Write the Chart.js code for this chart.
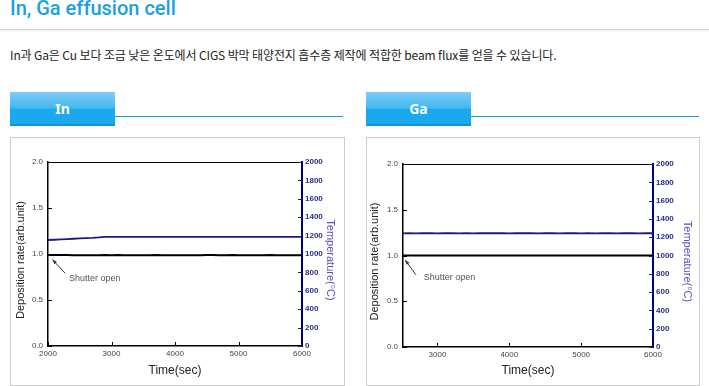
<!DOCTYPE html>
<html>
<head>
<meta charset="utf-8">
<script src="https://cdn.jsdelivr.net/npm/chart.js@4.4.0/dist/chart.umd.min.js"></script>
<style>
  body { margin: 0; width: 709px; height: 386px; overflow: hidden; background: #fff; position: relative;
         font-family: "Noto Sans CJK KR", "Noto Sans", sans-serif; }
  #title { position: absolute; left: 10px; top: -4px; font: 500 20px Roboto, sans-serif; color: #1ba0e3; white-space: nowrap; }
  #hr { position: absolute; left: 0; top: 29px; width: 709px; height: 1px; background: #cfcfcf; box-shadow: 0 1px 2px #e6e6e6; }
  #desc { position: absolute; left: 10px; top: 46px; font-size: 12px; color: #222; white-space: nowrap; letter-spacing: -0.12px; }
  .tab { position: absolute; top: 92px; width: 105px; height: 34px; color: #fff; font: bold 14px "Noto Sans", sans-serif;
         text-align: center; line-height: 33px;
         background: linear-gradient(#7dccf3 0%, #45b8f1 47%, #1aa9ef 50%, #1aa9ef 93%, #1592d2 94%, #1592d2 100%); }
  .tabline { position: absolute; top: 116px; height: 1px; background: #1a9be0; }
  .box { position: absolute; top: 137px; height: 247px; border: 1px solid #cccccc; }
  .box canvas { position: absolute; left: 0; top: 0; }
</style>
</head>
<body>
<div id="title">In, Ga effusion cell</div>
<div id="hr"></div>
<div id="desc">In과 Ga은 Cu 보다 조금 낮은 온도에서 CIGS 박막 태양전지 흡수층 제작에 적합한 beam flux를 얻을 수 있습니다.</div>

<div class="tab" style="left:10px">In</div>
<div class="tabline" style="left:115px; width:228px"></div>
<div class="tab" style="left:366px">Ga</div>
<div class="tabline" style="left:471px; width:228px"></div>

<div class="box" style="left:10px; width:333px"><canvas id="inChart" width="333" height="247"></canvas></div>
<div class="box" style="left:366px; width:332px"><canvas id="gaChart" width="332" height="247"></canvas></div>

<script>
// In cell
const inTime = [2000, 2100, 2200, 2300, 2400, 2500, 2600, 2700, 2800, 2900, 3000, 3100, 3200, 3300, 3400, 3500, 3600, 3700, 3800, 3900, 4000,
                4100, 4200, 4300, 4400, 4500, 4600, 4700, 4800, 4900, 5000, 5100, 5200, 5300, 5400, 5500, 5600, 5700, 5800, 5900, 6000];
const inRate = [0.99, 0.99, 0.99, 0.988, 0.986, 0.986, 0.986, 0.986, 0.986, 0.988, 0.986, 0.988, 0.986, 0.986, 0.986, 0.986, 0.986, 0.988, 0.986, 0.986, 0.986,
                0.986, 0.986, 0.986, 0.986, 0.988, 0.988, 0.986, 0.986, 0.988, 0.986, 0.986, 0.986, 0.986, 0.986, 0.988, 0.986, 0.986, 0.986, 0.986, 0.986];
const inTemp = [1152, 1155, 1158, 1162, 1166, 1169, 1172, 1175, 1180, 1187, 1187, 1187, 1187, 1187, 1187, 1187, 1187, 1187, 1187, 1187, 1187,
                1187, 1187, 1187, 1187, 1187, 1187, 1187, 1187, 1187, 1187, 1187, 1187, 1187, 1187, 1187, 1187, 1187, 1187, 1187, 1187];

// Ga cell
const gaTime = [2520, 2600, 2700, 2800, 2900, 3000, 3100, 3200, 3300, 3400, 3500, 3600, 3700, 3800, 3900, 4000, 4100, 4200,
                4300, 4400, 4500, 4600, 4700, 4800, 4900, 5000, 5100, 5200, 5300, 5400, 5500, 5600, 5700, 5800, 5900, 6000];
const gaRate = [1.0, 1.0, 1.0, 1.0, 1.0, 1.0, 1.0, 1.0, 1.0, 1.0, 1.0, 1.0, 1.0, 1.0, 1.0, 1.0, 1.0, 1.0,
                1.0, 1.0, 1.0, 1.0, 1.0, 1.0, 1.0, 1.0, 1.0, 1.0, 1.0, 1.0, 1.0, 1.0, 1.0, 1.0, 1.0, 1.0];
const gaTemp = [1242, 1243, 1242, 1244, 1243, 1242, 1243, 1244, 1242, 1243, 1242, 1244, 1243, 1243, 1244, 1242, 1243, 1245,
                1243, 1242, 1244, 1243, 1242, 1243, 1244, 1242, 1243, 1242, 1244, 1243, 1242, 1243, 1244, 1242, 1243, 1243];

// axis ticks
const inTimeTicks = [2000, 3000, 4000, 5000, 6000];
const gaTimeTicks = [3000, 4000, 5000, 6000];
const rateTicks = [0.0, 0.5, 1.0, 1.5, 2.0];
const tempTicks = [0, 200, 400, 600, 800, 1000, 1200, 1400, 1600, 1800, 2000];

// "Shutter open" note: arrow tip, arrow tail, text start (time, rate)
const inNote = [[2070, 0.94], [2270, 0.79], [2330, 0.73]];
const gaNote = [[2550, 0.95], [2700, 0.79], [2810, 0.76]];

const NAVY = '#1a1a80';
const FONT = '"Liberation Sans", Arial, sans-serif';

function line(ctx, x1, y1, x2, y2) {
    ctx.beginPath();
    ctx.moveTo(x1, y1);
    ctx.lineTo(x2, y2);
    ctx.stroke();
}

// inner tick marks, top frame line, y titles and the note
const framePlugin = {
    id: 'frame',
    afterDraw(chart, args, opts) {
        const ctx = chart.ctx;
        const a = chart.chartArea;
        const sx = chart.scales.x, sy = chart.scales.y, sy1 = chart.scales.y1;
        ctx.save();
        ctx.strokeStyle = '#000';
        ctx.lineWidth = 1;
        line(ctx, a.left, a.top + 0.5, a.right, a.top + 0.5);
        sx.ticks.forEach(t => {
            const x = Math.round(sx.getPixelForValue(t.value)) + 0.5;
            line(ctx, x, a.bottom, x, a.bottom - 4);
        });
        sy.ticks.forEach(t => {
            const y = Math.round(sy.getPixelForValue(t.value)) + 0.5;
            line(ctx, a.left, y, a.left + 4, y);
        });
        ctx.strokeStyle = NAVY;
        sy1.ticks.forEach(t => {
            const y = Math.round(sy1.getPixelForValue(t.value)) + 0.5;
            line(ctx, a.right, y, a.right - 4, y);
        });

        // y axis titles
        const midY = (a.top + a.bottom) / 2 + opts.titleShift;
        ctx.textAlign = 'center';
        ctx.textBaseline = 'middle';
        ctx.font = '11px ' + FONT;
        ctx.fillStyle = '#222';
        ctx.save();
        ctx.translate(opts.leftTitleX, midY);
        ctx.rotate(-Math.PI / 2);
        ctx.fillText('Deposition rate(arb.unit)', 0, 0);
        ctx.restore();
        ctx.fillStyle = '#5a4fc4';
        ctx.save();
        ctx.translate(opts.rightTitleX, midY);
        ctx.rotate(Math.PI / 2);
        ctx.fillText('Temperature(°C)', 0, 0);
        ctx.restore();

        // shutter open note
        const n = opts.note;
        const tipX = sx.getPixelForValue(n[0][0]), tipY = sy.getPixelForValue(n[0][1]);
        const tailX = sx.getPixelForValue(n[1][0]), tailY = sy.getPixelForValue(n[1][1]);
        ctx.strokeStyle = '#333';
        ctx.fillStyle = '#333';
        ctx.lineWidth = 1;
        line(ctx, tipX, tipY, tailX, tailY);
        const ang = Math.atan2(tipY - tailY, tipX - tailX);
        ctx.beginPath();
        ctx.moveTo(tipX, tipY);
        ctx.lineTo(tipX - 5 * Math.cos(ang - 0.35), tipY - 5 * Math.sin(ang - 0.35));
        ctx.lineTo(tipX - 5 * Math.cos(ang + 0.35), tipY - 5 * Math.sin(ang + 0.35));
        ctx.closePath();
        ctx.fill();
        ctx.font = '9px ' + FONT;
        ctx.fillStyle = '#555';
        ctx.textAlign = 'left';
        ctx.fillText('Shutter open', sx.getPixelForValue(n[2][0]), sy.getPixelForValue(n[2][1]));
        ctx.restore();
    }
};

function makeChart(id, time, rate, temp, xMin, timeTicks, sizes, note) {
    return new Chart(document.getElementById(id), {
        type: 'line',
        data: {
            labels: time,
            datasets: [
                {
                    label: 'Deposition rate',
                    data: rate,
                    yAxisID: 'y',
                    borderColor: '#000',
                    borderWidth: 2,
                    pointRadius: 0,
                    tension: 0
                },
                {
                    label: 'Temperature',
                    data: temp,
                    yAxisID: 'y1',
                    borderColor: NAVY,
                    borderWidth: 1.8,
                    pointRadius: 0,
                    tension: 0
                }
            ]
        },
        options: {
            responsive: false,
            animation: false,
            events: [],
            layout: { autoPadding: false, padding: { top: sizes.top, left: 0, right: 0, bottom: 0 } },
            plugins: {
                legend: { display: false },
                tooltip: { enabled: false },
                frame: { note: note, leftTitleX: sizes.leftTitleX, rightTitleX: sizes.rightTitleX, titleShift: 6 }
            },
            scales: {
                x: {
                    type: 'linear',
                    min: xMin,
                    max: 6000,
                    afterBuildTicks: s => { s.ticks = timeTicks.map(v => ({ value: v })); },
                    afterFit: s => { s.height = sizes.xh; },
                    ticks: { padding: 3, maxRotation: 0, autoSkip: false, color: '#444', font: { family: FONT, size: 8 },
                             callback: v => String(v) },
                    grid: { display: false, drawTicks: false },
                    border: { display: true, color: '#000', width: 1.5 },
                    title: { display: true, text: 'Time(sec)', color: '#222', font: { family: FONT, size: 12 },
                             padding: { top: 0, bottom: 7 } }
                },
                y: {
                    position: 'left',
                    min: 0,
                    max: 2,
                    afterBuildTicks: s => { s.ticks = rateTicks.map(v => ({ value: v })); },
                    afterFit: s => { s.width = sizes.left; },
                    ticks: { padding: 5, autoSkip: false, color: '#444', font: { family: FONT, size: 8 }, callback: v => v.toFixed(1) },
                    grid: { display: false, drawTicks: false },
                    border: { display: true, color: '#000', width: 1.5 }
                },
                y1: {
                    position: 'right',
                    min: 0,
                    max: 2000,
                    afterBuildTicks: s => { s.ticks = tempTicks.map(v => ({ value: v })); },
                    afterFit: s => { s.width = sizes.right; },
                    ticks: { padding: 3, autoSkip: false, color: '#2a2a8c', font: { family: FONT, size: 8, weight: 'bold' },
                             callback: v => String(v) },
                    grid: { display: false, drawTicks: false },
                    border: { display: true, color: '#00007a', width: 2 }
                }
            }
        },
        plugins: [framePlugin]
    });
}

makeChart('inChart', inTime, inRate, inTemp, 2000, inTimeTicks,
    { top: 24, left: 37, right: 42, xh: 39, leftTitleX: 10, rightTitleX: 319 }, inNote);
makeChart('gaChart', gaTime, gaRate, gaTemp, 2520, gaTimeTicks,
    { top: 26, left: 36, right: 46, xh: 38, leftTitleX: 8, rightTitleX: 320 }, gaNote);
</script>
</body>
</html>
